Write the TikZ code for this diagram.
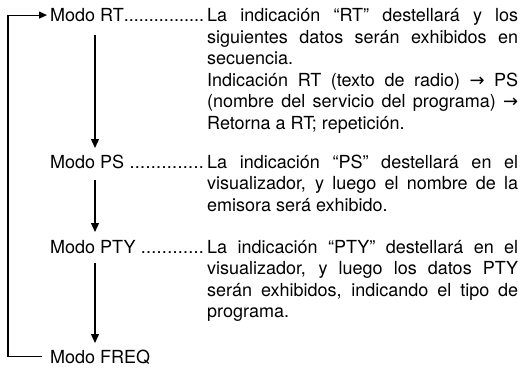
\documentclass[tikz,border=0pt]{standalone}
\usepackage{fontspec}
\setmainfont{TeX Gyre Heros}
\newfontfamily\arrowfont{DejaVu Sans}
\usetikzlibrary{calc,arrows.meta}
\newcommand{\txtarrow}{{\arrowfont →}}
\newcommand{\dotlead}{\xleaders\hbox{.}\hfill\kern3pt}
\begin{document}
\begin{tikzpicture}[
  txt/.style={font=\fontsize{18}{21.5}\selectfont, inner sep=0pt, anchor=base west},
  modo/.style={txt},
  desc/.style={txt, text width=311pt, align=justify},
  flow/.style={line width=1.3pt, -{Triangle[width=8pt,length=9pt]}},
  loopline/.style={line width=1.1pt}
]
\useasboundingbox (0,0) rectangle (524pt,-367pt);
\node[modo] (rt) at (50pt,-21.5pt) {\makebox[157pt][l]{Modo RT\dotlead}};
\node[modo] (ps) at (50pt,-168pt) {\makebox[157pt][l]{Modo PS\ \dotlead}};
\node[modo] (pty) at (50pt,-253pt) {\makebox[157pt][l]{Modo PTY\ \dotlead}};
\node[modo] (freq) at (50pt,-363pt) {Modo FREQ};
\node[desc] (rtdesc) at (207pt,-21.5pt) {La indicación “RT” destellará y los\linebreak siguientes datos serán exhibidos en\linebreak secuencia.\\ Indicación RT (texto de radio) \txtarrow{} PS\linebreak (nombre del servicio del programa)~\txtarrow\linebreak Retorna a RT; repetición.};
\node[desc] (psdesc) at (207pt,-168pt) {La indicación “PS” destellará en el\linebreak visualizador, y luego el nombre de la\linebreak emisora será exhibido.};
\node[desc] (ptydesc) at (207pt,-253pt) {La indicación “PTY” destellará en el\linebreak visualizador, y luego los datos PTY\linebreak serán exhibidos, indicando el tipo de\linebreak programa.};
\draw[flow] ($(rt.base west)+(45pt,-13pt)$) -- ($(ps.base west)+(45pt,20pt)$);
\draw[flow] ($(ps.base west)+(45pt,-12pt)$) -- ($(pty.base west)+(45pt,21pt)$);
\draw[flow] ($(pty.base west)+(45pt,-10pt)$) -- ($(freq.base west)+(45pt,20pt)$);
\coordinate (lb) at (8pt,0pt);
\draw[loopline, -{Triangle[width=7pt,length=8pt]}] ([xshift=-8pt]freq.west) -- (freq.west -| lb) |- ([xshift=-3pt]rt.west);
\end{tikzpicture}
\end{document}
